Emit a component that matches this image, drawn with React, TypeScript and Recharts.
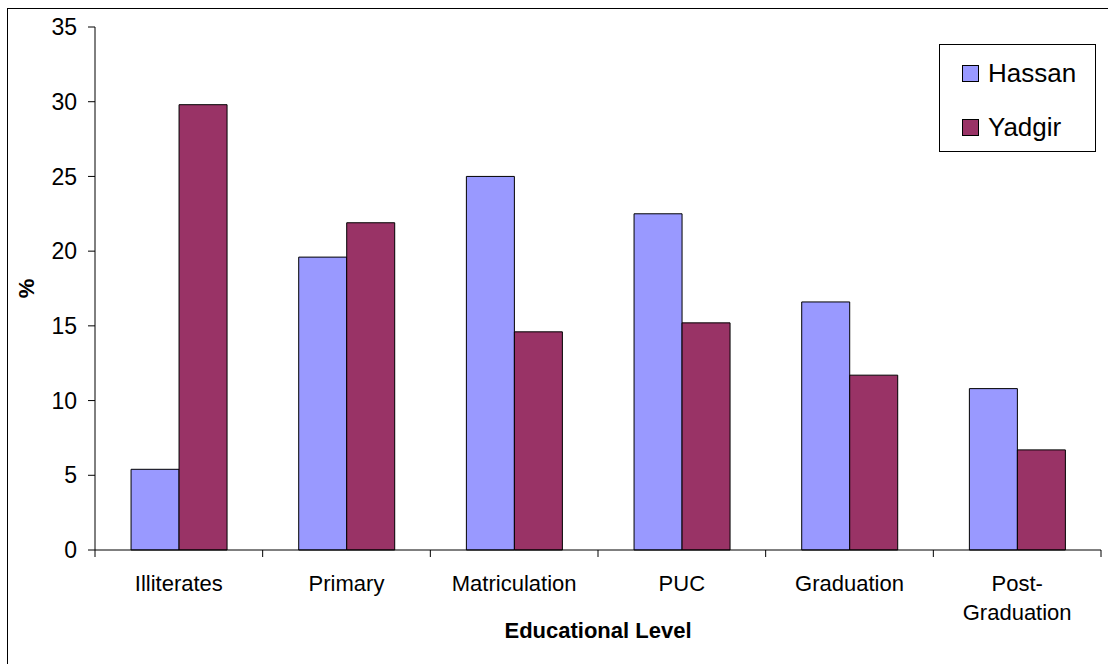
import { BarChart, Bar, XAxis, YAxis, Legend, Label } from "recharts"

const LEVELS = ["Illiterates", "Primary", "Matriculation", "PUC", "Graduation", "Post-Graduation"]
const HASSAN = [5.4, 19.6, 25.0, 22.5, 16.6, 10.8]
const YADGIR = [29.8, 21.9, 14.6, 15.2, 11.7, 6.7]
const Y_TICKS = [0, 5, 10, 15, 20, 25, 30, 35]

const COLORS = { Hassan: "#9999FF", Yadgir: "#993366" }

const data = LEVELS.map((level, i) => ({
  level,
  Hassan: HASSAN[i],
  Yadgir: YADGIR[i],
}))

const FONT = "'Liberation Sans', Arial, sans-serif"
const X_TICK_GAP = 25

// category label, plus the small marks on the category boundaries
function LevelTick({ x, y, payload, index, visibleTicksCount }: any) {
  const half = payload.offset ?? 0
  const axisY = y - X_TICK_GAP
  const lines = String(payload.value).split(/(?<=-)/)
  return (
    <g>
      <line x1={x - half} x2={x - half} y1={axisY} y2={axisY + 7} stroke="#000" />
      {index === visibleTicksCount - 1 && (
        <line x1={x + half} x2={x + half} y1={axisY} y2={axisY + 7} stroke="#000" />
      )}
      <text x={x} y={y} textAnchor="middle" fontSize={22} fontFamily={FONT} fill="#000">
        {lines.map((line, i) => (
          <tspan key={i} x={x} dy={i === 0 ? 16 : 29}>
            {line}
          </tspan>
        ))}
      </text>
    </g>
  )
}

function LegendBox({ payload }: any) {
  return (
    <div
      style={{
        width: 157,
        height: 108,
        boxSizing: "border-box",
        border: "1px solid #000",
        background: "#fff",
        position: "relative",
        fontFamily: FONT,
      }}
    >
      {(payload || []).map((item: any, i: number) => (
        <div
          key={item.value}
          style={{
            position: "absolute",
            left: 22,
            top: 19 + i * 54,
            height: 18,
            display: "flex",
            alignItems: "center",
          }}
        >
          <span
            style={{
              width: 17,
              height: 17,
              boxSizing: "border-box",
              border: "1px solid #000",
              background: item.color,
              display: "inline-block",
            }}
          />
          <span style={{ marginLeft: 9, fontSize: 26, color: "#000", lineHeight: "18px" }}>
            {item.value}
          </span>
        </div>
      ))}
    </div>
  )
}

export default function App() {
  return (
    <div
      style={{
        position: "fixed",
        left: 0,
        top: 0,
        width: 1108,
        height: 664,
        overflow: "hidden",
        background: "#fff",
        fontFamily: FONT,
      }}
    >
      {/* frame */}
      <div
        style={{
          position: "absolute",
          left: 7,
          top: 8,
          width: 1200,
          height: 800,
          borderTop: "1px solid #000",
          borderLeft: "1px solid #000",
        }}
      />
      <div style={{ position: "absolute", left: 0, top: 0 }}>
        <BarChart
          width={1108}
          height={664}
          data={data}
          margin={{ top: 27, right: 7, bottom: 113, left: 35 }}
          barCategoryGap="21.5%"
          barGap={0}
        >
          <XAxis
            dataKey="level"
            height={1}
            interval={0}
            axisLine={{ stroke: "#000" }}
            tickLine={false}
            tickSize={0}
            tickMargin={X_TICK_GAP}
            tick={<LevelTick />}
          >
            <Label
              content={(props: any) => {
                const vb = props.viewBox
                return (
                  <text
                    x={vb.x + vb.width / 2}
                    y={vb.y + 88}
                    textAnchor="middle"
                    fontSize={22}
                    fontWeight="bold"
                    fontFamily={FONT}
                    fill="#000"
                  >
                    Educational Level
                  </text>
                )
              }}
            />
          </XAxis>
          <YAxis
            width={60}
            domain={[0, 35]}
            ticks={Y_TICKS}
            interval={0}
            axisLine={{ stroke: "#000" }}
            tickLine={{ stroke: "#000" }}
            tickSize={7}
            tickMargin={11}
            tick={{ fill: "#000", fontSize: 23, fontFamily: FONT }}
          >
            <Label
              content={(props: any) => {
                const vb = props.viewBox
                const cx = vb.x - 9
                const cy = vb.y + vb.height / 2
                return (
                  <text
                    x={cx}
                    y={cy}
                    transform={`rotate(-90 ${cx} ${cy})`}
                    textAnchor="middle"
                    dominantBaseline="central"
                    fontSize={22}
                    fontWeight="bold"
                    fontFamily={FONT}
                    fill="#000"
                  >
                    %
                  </text>
                )
              }}
            />
          </YAxis>
          <Legend
            layout="vertical"
            align="center"
            verticalAlign="middle"
            wrapperStyle={{ left: 939, top: 44, width: 157, height: 108 }}
            content={<LegendBox />}
          />
          <Bar dataKey="Hassan" fill={COLORS.Hassan} stroke="#000" strokeWidth={1} isAnimationActive={false} />
          <Bar dataKey="Yadgir" fill={COLORS.Yadgir} stroke="#000" strokeWidth={1} isAnimationActive={false} />
        </BarChart>
      </div>
    </div>
  )
}
